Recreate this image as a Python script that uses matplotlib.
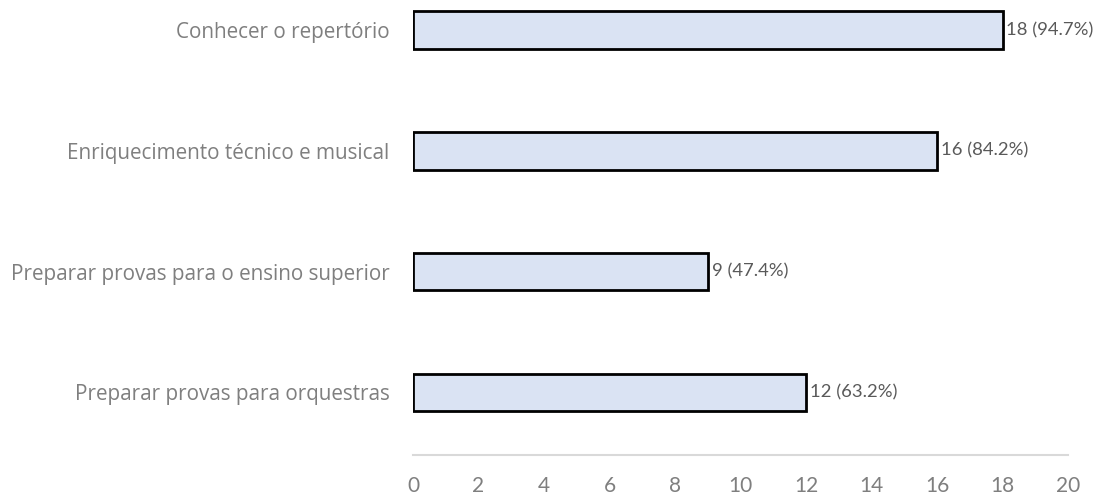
import matplotlib
matplotlib.use("Agg")
import matplotlib.pyplot as plt

categories = [
    "Preparar provas para orquestras",
    "Preparar provas para o ensino superior",
    "Enriquecimento técnico e musical",
    "Conhecer o repertório",
]
counts = [12, 9, 16, 18]
percents = [63.2, 47.4, 84.2, 94.7]
x_ticks = list(range(0, 21, 2))

plt.rcParams["font.family"] = ["Lato", "DejaVu Sans"]
label_grey = "#7F7F7F"
value_grey = "#595959"

fig = plt.figure(figsize=(11.06, 4.98), dpi=100)
ax = fig.add_axes([413 / 1106, 43 / 498, (1068 - 413) / 1106, 455 / 498])

y = range(len(categories))
ax.barh(y, counts, height=0.31, color="#DAE3F3", edgecolor="black", linewidth=2)

for yi, c, p in zip(y, counts, percents):
    ax.text(c + 0.12, yi, f"{c} ({p}%)", va="center", ha="left",
            fontsize=13.3, color=value_grey)

ax.set_xlim(0, 20)
ax.set_ylim(-0.52, 3.25)
ax.set_xticks(x_ticks)
ax.set_xticklabels([str(t) for t in x_ticks], fontsize=15, color=label_grey)
ax.set_yticks(list(y))
ax.set_yticklabels(categories, fontsize=14.9, color=label_grey,
                   family=["Open Sans", "DejaVu Sans"])
ax.tick_params(axis="x", length=0, pad=15)
ax.tick_params(axis="y", length=0, pad=17)

for side in ("top", "right", "left"):
    ax.spines[side].set_visible(False)
ax.spines["bottom"].set_color("#D9D9D9")
ax.spines["bottom"].set_linewidth(1.5)

fig.savefig("out.png", dpi=100)
